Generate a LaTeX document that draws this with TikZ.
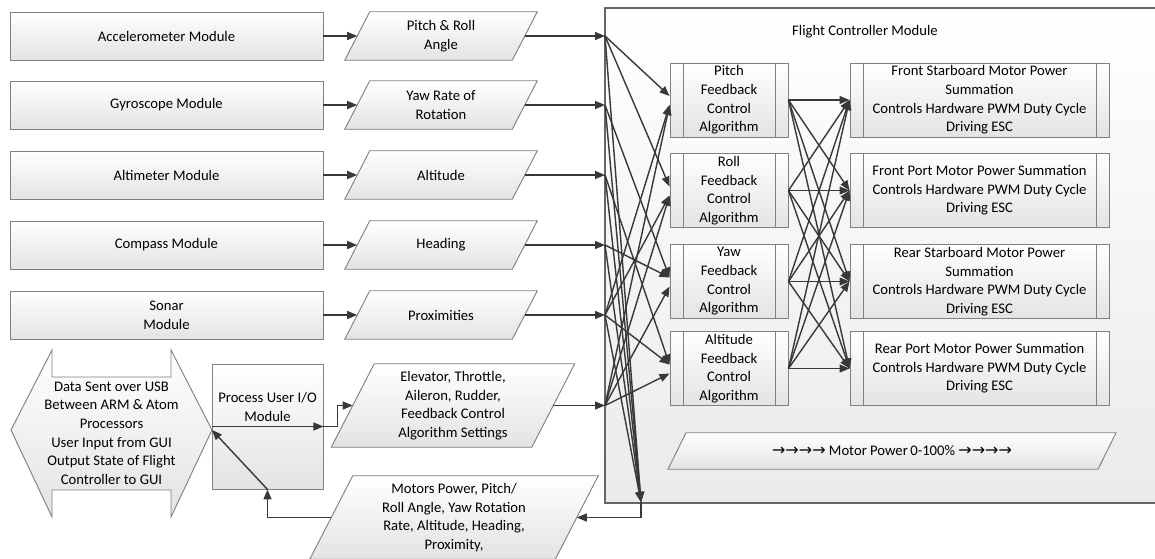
\documentclass[tikz,border=0pt]{standalone}
\usepackage{fontspec}
\setmainfont{Carlito}
\newfontfamily\arrfont{DejaVu Sans}
\usetikzlibrary{arrows.meta,backgrounds,calc}
\tikzset{
  every node/.style={font=\fontsize{11}{14}\selectfont},
  ln/.style={draw=black!78, line width=1.05pt},
  arr/.style={ln, -{Triangle[length=7.5pt,width=6pt]}},
  boxshade/.style={draw=black!50, line width=0.7pt, top color=white, bottom color=black!11},
  modbox/.style={boxshade, rectangle, inner sep=0pt, align=center},
  paratext/.style={rectangle, inner sep=0pt, align=center},
  procbox/.style={boxshade, rectangle, inner sep=0pt, align=center,
    path picture={\draw[draw=black!50, line width=0.7pt]
      ([xshift=13*0.75pt]path picture bounding box.north west) -- ([xshift=13*0.75pt]path picture bounding box.south west)
      ([xshift=-13*0.75pt]path picture bounding box.north east) -- ([xshift=-13*0.75pt]path picture bounding box.south east);}},
  fcbox/.style={draw=black!60, line width=0.8pt, top color=white, bottom color=black!8, rectangle, inner sep=0pt},
}
% #1 name, #2 x, #3 y, #4 mid width, #5 height, #6 slant, #7 text
\newcommand\paranode[7]{%
  \node[paratext, minimum width=#4*0.75pt, minimum height=#5*0.75pt] (#1) at (#2,#3) {#7};
  \begin{scope}[on background layer]
    \path[boxshade] ([xshift=#6*0.375pt]#1.north west) -- ([xshift=#6*0.375pt]#1.north east)
      -- ([xshift=-#6*0.375pt]#1.south east) -- ([xshift=-#6*0.375pt]#1.south west) -- cycle;
  \end{scope}}
\newcommand\arrs{{\arrfont\fontsize{12}{14}\selectfont →→→→}}
\begin{document}
\begin{tikzpicture}[x=0.75pt,y=-0.75pt]
\useasboundingbox (0,0) rectangle (1155,558);
\begin{scope}[on background layer]
  \node[fcbox, minimum width=560*0.75pt, minimum height=495*0.75pt] (fc) at (885,255.5) {};
\end{scope}
\node (fct) at (865,32) {Flight Controller Module};

% sensor modules
\tikzset{mb/.style={modbox, minimum width=313*0.75pt, minimum height=48*0.75pt}}
\node[mb] (acc) at (166.5,36) {Accelerometer Module};
\node[mb] (gyr) at (166.5,105) {Gyroscope Module};
\node[mb] (alm) at (166.5,175) {Altimeter Module};
\node[mb] (cmp) at (166.5,245) {Compass Module};
\node[mb] (son) at (166.5,315) {Sonar\\Module};

% data parallelograms
\paranode{pr}{441}{36}{167}{48}{25}{Pitch \& Roll\\Angle}
\paranode{yr}{441}{105}{167}{48}{25}{Yaw Rate of\\Rotation}
\paranode{al}{441}{175}{167}{48}{25}{Altitude}
\paranode{hd}{441}{245}{167}{48}{25}{Heading}
\paranode{px}{441}{315}{167}{48}{25}{Proximities}
\paranode{elev}{453}{405.5}{200}{83}{43}{Elevator, Throttle,\\Aileron, Rudder,\\Feedback Control\\Algorithm Settings}
\paranode{bot}{454}{517.5}{245}{83}{43}{Motors Power, Pitch/\\Roll Angle, Yaw Rotation\\Rate, Altitude, Heading,\\Proximity,}
\paranode{mp}{892}{451}{429.5}{36}{18}{\arrs\ Motor Power\,0-100\% \arrs}

% feedback algorithm boxes
\tikzset{fb/.style={procbox, minimum width=118*0.75pt, minimum height=74*0.75pt},
         mo/.style={procbox, minimum width=259*0.75pt, minimum height=74*0.75pt}}
\node[fb] (pitch) at (729,100) {Pitch\\Feedback\\Control\\Algorithm};
\node[fb] (roll) at (729,190.5) {Roll\\Feedback\\Control\\Algorithm};
\node[fb] (yaw) at (729,281.5) {Yaw\\Feedback\\Control\\Algorithm};
\node[fb] (alt) at (729,368.5) {Altitude\\Feedback\\Control\\Algorithm};

% motor boxes
\node[mo] (m1) at (979.5,100) {Front Starboard Motor Power\\Summation\\Controls Hardware PWM Duty Cycle\\Driving ESC};
\node[mo] (m2) at (979.5,190.5) {Front Port Motor Power Summation\\Controls Hardware PWM Duty Cycle\\Driving ESC};
\node[mo] (m3) at (979.5,281.5) {Rear Starboard Motor Power\\Summation\\Controls Hardware PWM Duty Cycle\\Driving ESC};
\node[mo] (m4) at (979.5,368.5) {Rear Port Motor Power Summation\\Controls Hardware PWM Duty Cycle\\Driving ESC};

% user I/O
\node[modbox, minimum width=111*0.75pt, minimum height=125*0.75pt] (pio) at (267.5,426.5) {};
\node[align=center] (piot) at (267.5,407) {Process User I/O\\Module};

\path[boxshade] (52,350) -- (52,377) -- (171,377) -- (171,350) -- (212,430) -- (171,517)
  -- (171,490) -- (52,490) -- (52,517) -- (11,430) -- cycle;
\node[align=center] (usb) at (111.5,433) {Data Sent over USB\\Between ARM \& Atom\\Processors\\User Input from GUI\\Output State of Flight\\Controller to GUI};
\coordinate (usbE) at (212,430);

% fan points and collector
\coordinate (fA) at (605,36);
\coordinate (fB) at (605,105);
\coordinate (fC) at (605,175);
\coordinate (fD) at (605,245);
\coordinate (fE) at (605,315);
\coordinate (fF) at (605,405.5);
\coordinate (col) at (641,502);
\foreach \b in {pitch,roll,yaw,alt}{
  \coordinate (\b U) at ([yshift=4*0.75pt]\b.west);
  \coordinate (\b L) at ([yshift=-5*0.75pt]\b.west);
}

% module -> data
\foreach \m/\p in {acc/pr,gyr/yr,alm/al,cmp/hd,son/px}{
  \draw[arr] (\m.east) -- (\p.west);
}
% data -> fan points
\draw[arr] (pr.east) -- (fA);
\draw[arr] (yr.east) -- (fB);
\draw[arr] (al.east) -- (fC);
\draw[arr] (hd.east) -- (fD);
\draw[arr] (px.east) -- (fE);
\draw[arr] (elev.east) -- (fF);

% fan to algorithms
\foreach \s/\t in {fA/pitchU,fA/rollU,fB/yawU,fC/altU,fD/yawU,fE/altU,fE/pitchL,fE/rollL,
                   fF/pitchL,fF/rollL,fF/yawL,fF/altL,
                   fA/col,fB/col,fC/col,fD/col,fE/col}{
  \draw[arr] (\s) -- (\t);
}
% algorithms to motors
\foreach \a in {pitch,roll,yaw,alt}{
  \foreach \m in {m1,m2,m3,m4}{
    \draw[arr] (\a.east) -- (\m.west);
  }
}
% report back
\draw[arr] (col) |- (bot.east);
\draw[arr] (bot.west) -| (pio.south);
\draw[arr] (pio.south) -- (usbE);
\draw[arr] (usbE |- pio.east) -- (pio.east);
\draw[arr] (pio.east) -- ($(pio.east)+(14,0)$) |- (elev.west);
\end{tikzpicture}
\end{document}
